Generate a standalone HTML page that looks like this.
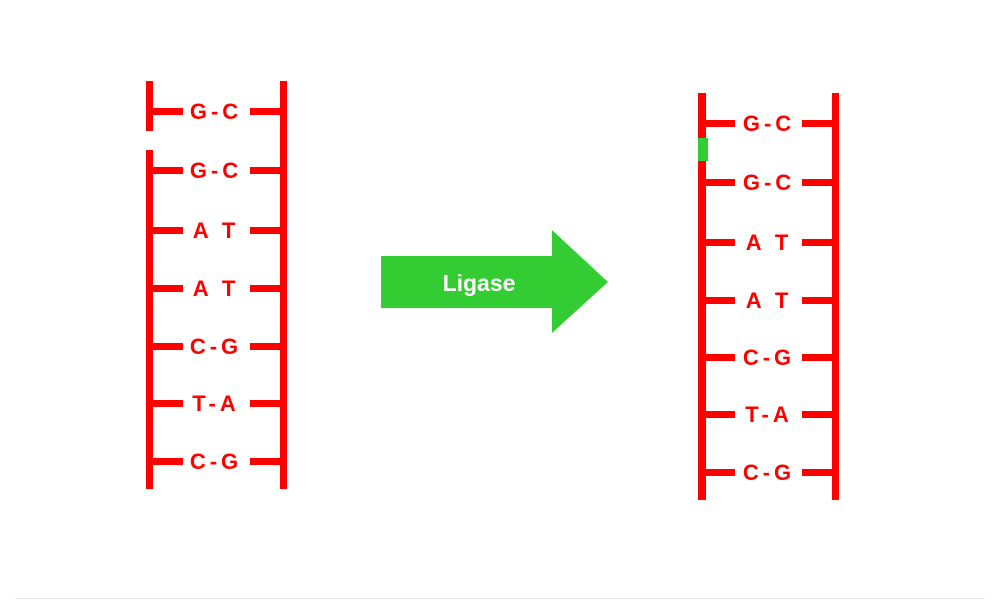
<!DOCTYPE html>
<html><head><style>
body{margin:0;background:#fff;}
</style></head><body>
<svg width="1000" height="600" xmlns="http://www.w3.org/2000/svg" style="display:block">
<rect width="1000" height="600" fill="#fff"/>
<line x1="15" y1="598.5" x2="985" y2="598.5" stroke="#e6e6e6" stroke-width="1"/>
<g fill="#ff0000">
<rect x="146" y="81" width="7" height="50"/>
<rect x="146" y="150" width="7" height="339"/>
<rect x="280" y="81" width="7" height="408"/>
<rect x="698" y="93" width="8" height="407"/>
<rect x="832" y="93" width="7" height="407"/>
</g>
<g fill="#ff0000">
<rect x="153" y="108" width="30" height="7"/><rect x="250" y="108" width="30" height="7"/>
<rect x="153" y="167" width="30" height="7"/><rect x="250" y="167" width="30" height="7"/>
<rect x="153" y="227" width="30" height="7"/><rect x="250" y="227" width="30" height="7"/>
<rect x="153" y="285" width="30" height="7"/><rect x="250" y="285" width="30" height="7"/>
<rect x="153" y="343" width="30" height="7"/><rect x="250" y="343" width="30" height="7"/>
<rect x="153" y="400" width="30" height="7"/><rect x="250" y="400" width="30" height="7"/>
<rect x="153" y="458" width="30" height="7"/><rect x="250" y="458" width="30" height="7"/>

<rect x="706" y="120" width="29" height="7"/><rect x="802" y="120" width="30" height="7"/>
<rect x="706" y="179" width="29" height="7"/><rect x="802" y="179" width="30" height="7"/>
<rect x="706" y="239" width="29" height="7"/><rect x="802" y="239" width="30" height="7"/>
<rect x="706" y="297" width="29" height="7"/><rect x="802" y="297" width="30" height="7"/>
<rect x="706" y="354" width="29" height="7"/><rect x="802" y="354" width="30" height="7"/>
<rect x="706" y="411" width="29" height="7"/><rect x="802" y="411" width="30" height="7"/>
<rect x="706" y="469" width="29" height="7"/><rect x="802" y="469" width="30" height="7"/>
</g>
<rect x="698" y="138" width="10" height="23" fill="#33cc33"/>
<g fill="#ff0000" font-family="Liberation Sans, sans-serif" font-weight="bold" font-size="22" letter-spacing="4" text-anchor="middle">
<text x="216" y="119">G-C</text>
<text x="216" y="178">G-C</text>
<text x="216" y="238">A T</text>
<text x="216" y="296">A T</text>
<text x="216" y="354">C-G</text>
<text x="216" y="411">T-A</text>
<text x="216" y="469">C-G</text>
<text x="769" y="131">G-C</text>
<text x="769" y="190">G-C</text>
<text x="769" y="250">A T</text>
<text x="769" y="308">A T</text>
<text x="769" y="365">C-G</text>
<text x="769" y="422">T-A</text>
<text x="769" y="480">C-G</text>
</g>
<polygon points="381,256 552,256 552,230 608,282 552,333 552,308 381,308" fill="#33cc33"/>
<text x="479" y="291" fill="#fff" font-family="Liberation Sans, sans-serif" font-weight="bold" font-size="23" text-anchor="middle">Ligase</text>
</svg>
</body></html>
